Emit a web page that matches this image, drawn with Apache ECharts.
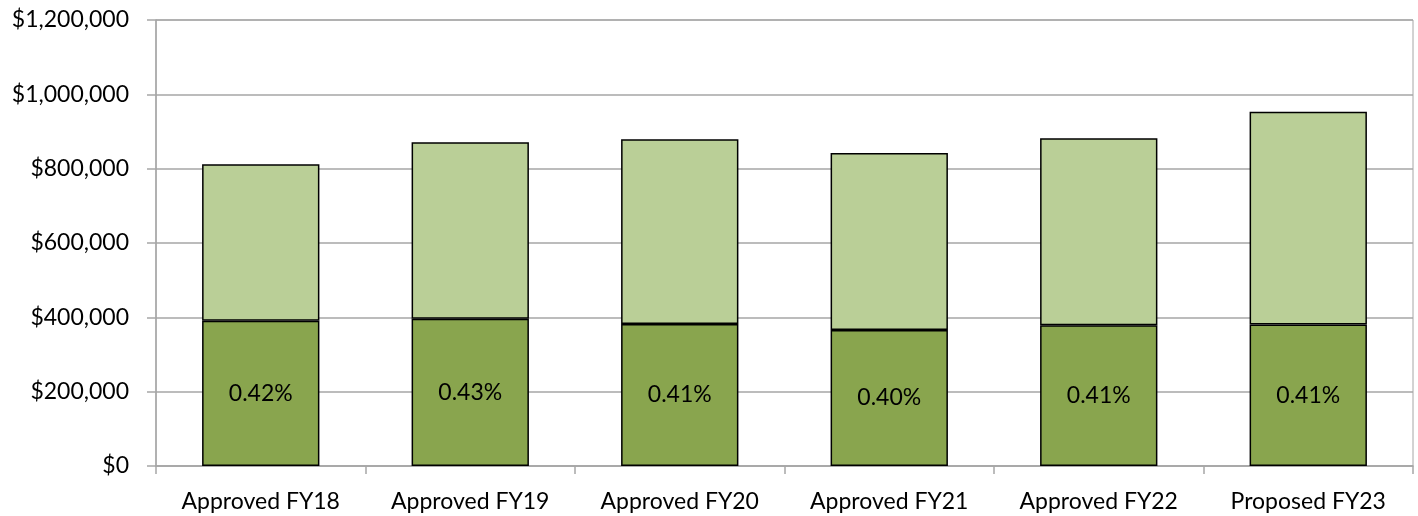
<!DOCTYPE html>
<html>
<head>
<meta charset="utf-8">
<style>
  html, body { margin: 0; padding: 0; background: #fff; }
  #chart { width: 1418px; height: 516px; }
</style>
<script src="https://cdn.jsdelivr.net/npm/echarts@6/dist/echarts.min.js"></script>
</head>
<body>
<div id="chart"></div>
<script>
// budget by fiscal year
const categories = ['Approved FY18', 'Approved FY19', 'Approved FY20', 'Approved FY21', 'Approved FY22', 'Proposed FY23']
const baseValues = [391000, 396000, 382000, 366000, 379000, 381000]
const restValues = [421000, 475000, 497000, 476000, 503000, 572000]
const pctLabels = ['0.42%', '0.43%', '0.41%', '0.40%', '0.41%', '0.41%']
const yTicks = [0, 200000, 400000, 600000, 800000, 1000000, 1200000]

const fontFamily = 'Lato, "Noto Sans", sans-serif'
const gridColor = '#a6a6a6'

const chart = echarts.init(document.getElementById('chart'))

const option = {
  animation: false,
  grid: {
    left: 156,
    right: 5,
    top: 20,
    bottom: 50,
    show: true,
    borderColor: gridColor,
    borderWidth: 1
  },
  xAxis: {
    type: 'category',
    data: categories,
    axisLine: { lineStyle: { color: gridColor, width: 1.5 } },
    axisTick: { show: true, length: 8, alignWithLabel: false, lineStyle: { color: gridColor, width: 1.5 } },
    axisLabel: {
      color: '#000',
      fontFamily: fontFamily,
      fontSize: 23,
      margin: 24
    }
  },
  yAxis: {
    type: 'value',
    min: yTicks[0],
    max: yTicks[yTicks.length - 1],
    interval: 200000,
    axisLine: { show: true, lineStyle: { color: gridColor, width: 1.5 } },
    axisTick: { show: true, length: 9, lineStyle: { color: gridColor, width: 1.5 } },
    splitLine: { lineStyle: { color: gridColor, width: 1.5 } },
    axisLabel: {
      color: '#000',
      fontFamily: fontFamily,
      fontSize: 23,
      margin: 27,
      formatter: v => '$' + v.toLocaleString('en-US')
    }
  },
  series: [
    {
      type: 'bar',
      stack: 'total',
      barWidth: '56%',
      data: baseValues,
      itemStyle: { color: '#89a54e', borderColor: '#000', borderWidth: 1.5 },
      label: {
        show: true,
        position: 'inside',
        color: '#000',
        fontFamily: fontFamily,
        fontSize: 23,
        formatter: p => pctLabels[p.dataIndex]
      }
    },
    {
      type: 'bar',
      stack: 'total',
      barWidth: '56%',
      data: restValues,
      itemStyle: { color: '#bacf97', borderColor: '#000', borderWidth: 1.5 }
    }
  ]
}

chart.setOption(option)
</script>
</body>
</html>
